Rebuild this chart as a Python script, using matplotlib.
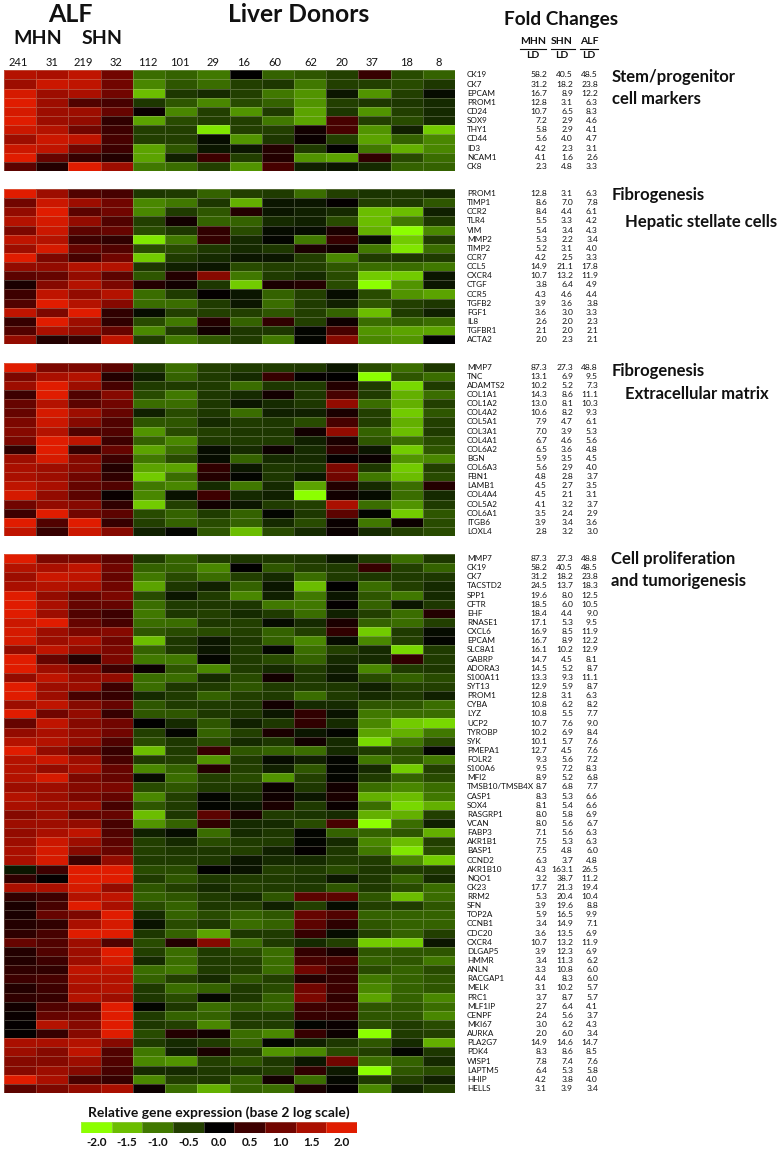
import matplotlib

matplotlib.use("Agg")

import matplotlib.pyplot as plt
import numpy as np
from matplotlib.colors import LinearSegmentedColormap, Normalize

WIDTH = 782
HEIGHT = 1151

SAMPLES = ["241", "31", "219", "32", "112", "101", "29", "16", "60", "62", "20", "37", "18", "8"]
LEGEND_VALUES = [-2.0, -1.5, -1.0, -0.5, 0.0, 0.5, 1.0, 1.5, 2.0]
LEGEND_COLORS = ["#8cff00", "#6bbd00", "#407800", "#223f00", "#000000",
                 "#3c0000", "#700500", "#a80f00", "#e01c00"]

STEM_GENES = ["CK19", "CK7", "EPCAM", "PROM1", "CD24", "SOX9", "THY1", "CD44", "ID3", "NCAM1", "CK8"]
STEM_MHN = [58.2, 31.2, 16.7, 12.8, 10.7, 7.2, 5.8, 5.6, 4.2, 4.1, 2.3]
STEM_SHN = [40.5, 18.2, 8.9, 3.1, 6.5, 2.9, 2.9, 4.0, 2.3, 1.6, 4.8]
STEM_ALF = [48.5, 23.8, 12.2, 6.3, 8.3, 4.6, 4.1, 4.7, 3.1, 2.6, 3.3]
STEM_EXPR = [
    [1.6, 1.5, 1.7, 1.0, -0.9, -0.8, -1.0, 0.0, -0.8, -0.7, -0.5, 0.4, -0.6, -0.8],
    [1.4, 1.8, 1.7, 1.0, -1.1, -0.7, -0.9, -0.5, -0.3, -1.0, -0.5, -0.5, -0.6, -0.3],
    [1.9, 1.4, 1.5, 1.0, -1.5, -0.3, -0.2, -0.5, -1.0, -1.2, -0.1, -1.2, -0.5, -0.05],
    [2.0, 1.4, 0.7, 0.6, -0.3, -0.7, -1.1, -0.6, -0.8, -1.2, -0.5, -0.3, -0.3, -0.2],
    [1.9, 1.4, 1.4, 0.9, 0.05, -1.1, -0.5, -1.2, -0.4, -1.3, -0.3, -1.2, -0.5, -0.2],
    [2.0, 1.4, 1.3, 0.3, -1.3, -0.6, -0.5, -0.5, -1.0, -1.3, 0.6, -0.5, -0.6, -0.2],
    [1.8, 1.6, 1.0, 0.5, -0.5, -0.5, -1.8, -0.5, -0.5, 0.1, 0.6, -1.2, -0.15, -1.6],
    [1.4, 1.8, 1.7, 0.6, -0.5, -0.5, -0.05, -1.2, -0.3, 0.05, -0.5, -1.3, -0.8, -1.1],
    [1.8, 1.7, 1.0, 0.5, -1.3, -0.7, -0.1, -0.1, 0.2, -0.4, 0.0, -1.0, -1.4, -1.1],
    [2.0, 0.9, 0.4, 0.2, -1.3, -0.15, 0.5, -0.5, 0.2, -1.2, -1.3, 0.3, -0.6, -0.9],
    [0.8, 0.2, 2.0, 1.4, -1.0, -0.9, -0.5, -1.2, 0.6, -0.15, -0.1, -0.2, -0.8, -0.8],
]

HSC_GENES = ["PROM1", "TIMP1", "CCR2", "TLR4", "VIM", "MMP2", "TIMP2", "CCR7", "CCL5", "CXCR4",
             "CTGF", "CCR5", "TGFB2", "FGF1", "IL8", "TGFBR1", "ACTA2"]
HSC_MHN = [12.8, 8.6, 8.4, 5.5, 5.4, 5.3, 5.2, 4.2, 14.9, 10.7, 3.8, 4.3, 3.9, 3.6, 2.6, 2.1, 2.0]
HSC_SHN = [3.1, 7.0, 4.4, 3.3, 3.4, 2.2, 3.1, 2.5, 21.1, 13.2, 6.4, 4.6, 3.6, 3.0, 2.0, 2.0, 2.3]
HSC_ALF = [6.3, 7.8, 6.1, 4.2, 4.3, 3.4, 4.0, 3.3, 17.8, 11.9, 4.9, 4.4, 3.8, 3.3, 2.3, 2.1, 2.1]
HSC_EXPR = [
    [2.0, 1.4, 0.7, 0.6, -0.3, -0.4, -0.8, -0.5, -0.4, -0.9, -0.5, -0.25, -0.3, -0.2],
    [1.0, 1.8, 1.4, 1.0, -1.1, -1.0, -0.3, -1.4, -0.1, -0.1, 0.03, -0.5, -0.4, -0.7],
    [1.3, 2.0, 0.8, 1.0, -1.1, -0.4, -0.7, 0.2, -0.1, -0.15, -0.2, -1.5, -1.5, -0.15],
    [1.6, 1.9, 1.3, 0.7, -0.5, 0.1, -0.8, -0.8, -0.2, -0.15, -0.6, -1.5, -1.0, -0.3],
    [1.1, 1.8, 0.8, 0.9, -0.6, -0.3, 0.3, -0.6, -0.05, -0.05, 0.15, -1.4, -2.0, -1.1],
    [1.7, 1.6, 0.5, 0.3, -1.8, -1.0, 0.35, -0.2, -0.03, -1.0, 0.4, -0.05, -1.6, -0.4],
    [1.4, 1.9, 0.9, 0.7, -0.6, -0.6, -0.3, -0.2, -0.3, 0.15, 0.1, -1.0, -1.8, -0.9],
    [2.0, 1.1, 0.6, 1.0, -1.6, -0.4, -0.2, -0.1, -0.1, -0.5, -1.1, -0.4, -0.3, -0.4],
    [1.3, 1.3, 1.6, 1.6, -0.3, -0.15, -0.1, -0.6, -0.5, -0.5, -0.7, -0.9, -0.9, -1.0],
    [0.8, 0.9, 1.3, 0.8, -0.7, 0.2, 1.2, -1.0, -0.4, -0.2, -0.6, -1.6, -1.6, -0.1],
    [0.15, 1.2, 1.6, 1.1, 0.2, 0.1, -0.3, -1.6, 0.15, 0.2, -0.6, -2.0, -1.2, -0.1],
    [0.5, 1.7, 1.3, 1.6, -0.9, -0.4, 0.02, -0.1, -0.8, -0.5, -0.05, -0.6, -1.2, -1.3],
    [0.7, 2.0, 1.6, 1.2, -0.9, -0.9, -0.4, -0.1, -0.9, -0.4, -0.15, -0.7, -0.5, -0.3],
    [1.7, 1.1, 2.0, 0.3, -0.05, -0.5, -0.5, -0.5, -0.7, -0.5, -0.8, -1.5, -0.4, -0.15],
    [0.4, 2.0, 1.4, 0.3, -0.6, -1.0, 0.2, -0.8, 0.3, -0.5, 0.08, -0.9, -0.8, -0.9],
    [0.7, 1.5, 1.3, 0.9, -1.1, -0.4, 0.1, -0.3, -0.3, -0.03, 0.6, -1.2, -1.3, -1.3],
    [1.3, 0.2, 0.4, 1.7, -0.4, -1.0, -0.7, -0.4, -1.0, -0.03, 1.2, -1.1, -1.2, 0.0],
]

ECM_GENES = ["MMP7", "TNC", "ADAMTS2", "COL1A1", "COL1A2", "COL4A2", "COL5A1", "COL3A1", "COL4A1",
             "COL6A2", "BGN", "COL6A3", "FBN1", "LAMB1", "COL4A4", "COL5A2", "COL6A1", "ITGB6", "LOXL4"]
ECM_MHN = [87.3, 13.1, 10.2, 14.3, 13.0, 10.6, 7.9, 7.0, 6.7, 6.5, 5.9, 5.6, 4.8, 4.5, 4.5, 4.1, 3.5, 3.9, 2.8]
ECM_SHN = [27.3, 6.9, 5.2, 8.6, 8.1, 8.2, 4.7, 3.9, 4.6, 3.6, 3.5, 2.9, 2.8, 2.7, 2.1, 3.2, 2.4, 3.4, 3.2]
ECM_ALF = [48.8, 9.5, 7.3, 11.1, 10.3, 9.3, 6.1, 5.3, 5.6, 4.8, 4.5, 4.0, 3.7, 3.5, 3.1, 3.7, 2.9, 3.6, 3.0]
ECM_EXPR = [
    [2.0, 1.1, 1.1, 0.8, -0.4, -0.9, -0.5, -0.4, -0.4, -0.3, -0.1, -0.6, -0.9, -0.3],
    [1.1, 1.5, 1.6, 0.2, -0.15, -0.8, -0.4, -0.2, 0.4, 0.03, 0.0, -2.0, -0.7, -0.9],
    [1.4, 2.0, 1.4, 0.6, -0.4, -0.4, -0.4, -0.9, -0.3, -0.4, 0.2, -0.4, -1.7, -0.4],
    [0.5, 2.0, 0.7, 1.2, -0.6, -1.0, -0.3, -0.2, 0.1, -0.3, 0.6, -0.4, -1.4, -0.9],
    [0.9, 1.6, 0.8, 1.0, -0.9, -0.9, -0.3, -0.1, -0.2, -0.3, 1.3, -0.9, -1.4, -0.5],
    [0.9, 1.9, 1.4, 0.9, -0.15, -0.6, -0.3, -0.9, -0.15, -0.15, 0.15, -0.5, -1.6, -0.7],
    [1.1, 1.8, 1.2, 0.7, -0.7, -0.7, -0.2, -0.4, -0.3, -0.6, 0.6, -0.5, -1.4, -0.5],
    [1.2, 1.6, 0.7, 0.7, -1.2, -0.6, -0.5, -0.3, -0.3, 0.1, 1.3, -0.8, -1.5, -0.4],
    [1.1, 2.0, 1.7, 0.5, -0.8, -1.1, -0.4, -0.4, -0.4, -0.15, 0.15, -0.7, -0.9, -0.6],
    [0.3, 2.0, 0.4, 0.9, -1.3, -0.9, -0.05, -0.2, 0.07, -0.2, 0.3, -0.1, -1.6, -0.7],
    [1.4, 1.9, 1.2, 0.5, -1.0, -0.6, -0.05, -0.8, -0.2, -0.2, 0.03, 0.05, -1.2, -1.1],
    [1.5, 1.4, 1.2, 0.2, -1.3, -1.3, 0.3, -0.1, -0.3, -0.25, 1.1, -0.3, -1.6, -0.5],
    [1.5, 1.4, 1.0, 0.3, -1.6, -0.9, 0.2, -0.03, -0.3, -0.1, 1.0, -1.0, -1.5, -0.6],
    [1.7, 1.5, 0.9, 0.7, -1.0, -1.1, -0.2, -1.0, -0.2, -1.3, 0.2, -0.2, -0.9, 0.2],
    [1.9, 1.3, 0.8, 0.05, -1.1, -0.08, 0.5, -0.2, -0.15, -2.0, 0.1, -0.05, -0.9, -0.2],
    [1.0, 1.3, 1.2, 0.3, -1.6, -0.5, 0.1, -0.1, -0.4, -0.5, 1.5, -0.9, -1.2, -0.4],
    [0.5, 2.0, 1.0, 0.8, -0.6, -0.8, -0.4, -0.8, -0.03, -0.3, 0.8, -0.03, -1.6, -0.7],
    [2.0, 0.7, 2.0, 0.4, -0.5, -0.8, -0.6, -0.8, -0.2, -0.6, 0.05, -1.0, 0.07, -0.6],
    [1.7, 0.4, 1.8, 1.2, -0.15, -0.03, -0.7, -1.5, -0.6, -0.2, 0.05, -0.2, -0.5, -0.6],
]

PROLIF_GENES = ["MMP7", "CK19", "CK7", "TACSTD2", "SPP1", "CFTR", "EHF", "RNASE1", "CXCL6", "EPCAM",
                "SLC8A1", "GABRP", "ADORA3", "S100A11", "SYT13", "PROM1", "CYBA", "LYZ", "UCP2", "TYROBP",
                "SYK", "PMEPA1", "FOLR2", "S100A6", "MFI2", "TMSB10/TMSB4X", "CASP1", "SOX4", "RASGRP1", "VCAN",
                "FABP3", "AKR1B1", "BASP1", "CCND2", "AKR1B10", "NQO1", "CK23", "RRM2", "SFN", "TOP2A",
                "CCNB1", "CDC20", "CXCR4", "DLGAP5", "HMMR", "ANLN", "RACGAP1", "MELK", "PRC1", "MLF1IP",
                "CENPF", "MKI67", "AURKA", "PLA2G7", "PDK4", "WISP1", "LAPTM5", "HHIP", "HELLS"]
PROLIF_MHN = [87.3, 58.2, 31.2, 24.5, 19.6, 18.5, 18.4, 17.1, 16.9, 16.7,
              16.1, 14.7, 14.5, 13.3, 12.9, 12.8, 10.8, 10.8, 10.7, 10.2,
              10.1, 12.7, 9.3, 9.5, 8.9, 8.7, 8.3, 8.1, 8.0, 8.0,
              7.1, 7.5, 7.5, 6.3, 4.3, 3.2, 17.7, 5.3, 3.9, 5.9,
              3.4, 3.6, 10.7, 3.9, 3.4, 3.3, 4.4, 3.1, 3.7, 2.7,
              2.4, 3.0, 2.0, 14.9, 8.3, 7.8, 6.4, 4.2, 3.1]
PROLIF_SHN = [27.3, 40.5, 18.2, 13.7, 8.0, 6.0, 4.4, 5.3, 8.5, 8.9,
              10.2, 4.5, 5.2, 9.3, 5.9, 3.1, 6.2, 5.5, 7.6, 6.9,
              5.7, 4.5, 5.6, 7.2, 5.2, 6.8, 5.3, 5.4, 5.8, 5.6,
              5.6, 5.3, 4.8, 3.7, 163.1, 38.7, 21.3, 20.4, 19.6, 16.5,
              14.9, 13.5, 13.2, 12.3, 11.3, 10.8, 8.3, 10.2, 8.7, 6.4,
              5.6, 6.2, 6.0, 14.6, 8.6, 7.4, 5.3, 3.8, 3.9]
PROLIF_ALF = [48.8, 48.5, 23.8, 18.3, 12.5, 10.5, 9.0, 9.5, 11.9, 12.2,
              12.9, 8.1, 8.7, 11.1, 8.7, 6.3, 8.2, 7.7, 9.0, 8.4,
              7.6, 7.6, 7.2, 8.3, 6.8, 7.7, 6.6, 6.6, 6.9, 6.7,
              6.3, 6.3, 6.0, 4.8, 26.5, 11.2, 19.4, 10.4, 8.8, 9.9,
              7.1, 6.9, 11.9, 6.9, 6.2, 6.0, 6.0, 5.7, 5.7, 4.1,
              3.7, 4.3, 3.4, 14.7, 8.5, 7.6, 5.8, 4.0, 3.4]
PROLIF_EXPR = [
    [2.0, 1.1, 1.1, 0.8, -0.4, -0.8, -0.4, -0.3, -0.3, -0.3, -0.1, -0.4, -0.9, -0.3],
    [1.6, 1.5, 1.7, 1.0, -0.8, -0.8, -1.1, 0.0, -0.7, -0.5, -0.4, 0.4, -0.5, -0.8],
    [1.4, 1.8, 1.7, 0.9, -1.0, -0.6, -0.9, -0.5, -0.2, -0.9, -0.4, -0.3, -0.4, -0.3],
    [1.5, 1.6, 1.5, 1.0, -1.3, -0.3, -0.15, -0.8, -0.1, -1.5, 0.0, -0.9, -0.5, -0.2],
    [2.0, 1.3, 0.9, 1.1, -0.6, -0.1, -0.4, -1.1, -0.15, -1.0, -0.1, -0.7, -1.0, -0.2],
    [2.0, 1.5, 0.9, 0.9, -0.9, -0.4, -0.3, -0.3, -1.0, -1.0, 0.02, -0.8, -0.1, -0.3],
    [2.0, 1.4, 0.7, 0.5, -1.0, -0.3, -0.5, -0.2, -0.4, -0.9, -0.15, -0.5, -0.9, 0.2],
    [1.8, 2.0, 0.9, 0.6, -0.9, -0.9, -0.3, -0.5, -0.05, -0.2, 0.15, -0.8, -0.9, -0.5],
    [1.9, 1.4, 1.1, 1.2, -0.7, -0.6, -0.6, -0.5, -0.8, -0.5, 0.3, -1.6, -0.4, -0.05],
    [1.9, 1.4, 1.5, 1.0, -1.5, -0.3, -0.1, -0.3, -0.8, -1.1, -0.05, -1.1, -0.5, -0.02],
    [1.3, 1.7, 1.3, 1.1, -0.8, -0.3, -0.1, -0.4, -0.03, -0.9, -0.5, -0.2, -1.7, -0.4],
    [2.0, 0.9, 0.2, 1.1, -1.0, -1.0, -0.03, -0.4, -0.6, -0.8, -0.2, -0.2, 0.3, -0.4],
    [2.0, 1.4, 1.1, 0.5, 0.05, -0.7, -1.1, -0.4, -0.2, -0.4, -0.15, -1.1, -0.4, -0.3],
    [1.3, 1.7, 1.3, 1.3, -0.9, -0.9, -0.2, -0.6, 0.1, -0.3, -0.1, -0.6, -0.8, -0.6],
    [2.0, 1.4, 1.4, 0.5, -0.9, -0.3, -0.4, -0.7, -0.4, -0.4, -0.3, -0.15, -0.5, -0.5],
    [2.0, 1.4, 0.6, 0.4, -0.2, -0.4, -0.8, -0.5, -0.4, -0.9, -0.4, -0.2, -0.3, -0.15],
    [1.4, 1.7, 1.2, 0.9, -0.7, -0.4, -0.4, -0.3, 0.1, -0.2, -0.2, -0.7, -0.7, -0.9],
    [2.0, 1.0, 1.3, 0.4, -0.7, -0.7, -0.3, -0.3, -0.1, 0.3, -0.08, -1.0, -0.9, -0.9],
    [0.9, 1.7, 1.2, 1.0, 0.0, -0.2, -0.7, -0.15, -0.3, 0.3, -0.2, -1.1, -1.6, -1.7],
    [1.3, 1.5, 1.3, 1.0, -0.5, -0.03, -0.8, -0.5, 0.15, -0.1, -0.03, -1.3, -1.4, -1.0],
    [1.6, 1.6, 1.3, 0.7, -0.6, -0.3, -0.6, -0.2, -0.3, 0.1, -0.2, -1.7, -1.0, -0.6],
    [2.0, 1.3, 0.9, 0.4, -1.5, -0.4, 0.4, -0.7, -0.8, -0.9, -0.2, -0.4, -0.6, -0.03],
    [1.6, 1.8, 1.4, 0.6, -0.4, -0.5, -1.2, -0.4, -0.05, -0.15, -0.03, -1.0, -0.7, -1.0],
    [1.6, 1.3, 1.5, 0.9, -1.1, -0.8, 0.2, -0.5, -0.15, -0.7, -0.02, -0.2, -1.6, -0.5],
    [1.6, 1.9, 1.1, 0.9, -0.05, -0.9, -0.5, -0.6, -1.2, -0.5, -0.02, -0.4, -0.8, -0.6],
    [1.4, 1.4, 1.2, 1.1, -0.6, -0.7, -0.4, -0.3, 0.05, -0.3, 0.1, -0.9, -1.1, -0.9],
    [1.6, 1.4, 1.1, 0.9, -1.1, -0.5, -0.03, -0.2, 0.08, -0.1, 0.15, -1.4, -1.5, -1.0],
    [1.5, 1.4, 1.4, 0.6, -0.7, -0.4, -0.03, -0.1, 0.15, -0.35, 0.05, -0.9, -1.7, -1.4],
    [1.2, 1.4, 0.9, 0.9, -1.5, -0.3, 0.8, 0.15, -0.4, -0.25, -0.2, -1.4, -1.4, -0.5],
    [1.4, 1.4, 1.3, 0.6, -1.2, -0.8, 0.3, -0.2, -0.2, -0.6, 0.6, -2.0, -0.9, -0.15],
    [1.3, 1.5, 1.7, 0.7, -0.15, -0.05, -0.9, -0.2, -0.3, -0.02, -0.8, -0.8, -0.7, -1.4],
    [1.4, 1.8, 1.4, 0.8, -0.5, -0.2, -0.6, -0.4, -0.4, -0.03, -0.2, -1.1, -1.5, -0.5],
    [1.5, 1.9, 1.2, 0.9, -0.5, -0.3, -0.3, -0.5, -0.15, 0.02, -0.3, -1.0, -1.8, -0.6],
    [1.5, 1.9, 0.5, 1.3, -0.4, -0.4, -0.3, -0.1, -0.2, -0.2, -0.4, -0.4, -1.1, -1.6],
    [-0.1, 0.5, 2.0, 2.0, -0.6, -0.6, 0.0, -0.08, -0.5, -0.4, -0.6, -0.3, -0.4, -0.3],
    [0.3, 0.03, 2.0, 2.0, -0.4, -0.7, -0.3, -0.4, -0.4, -0.25, -0.1, -0.3, -0.8, -0.2],
    [1.5, 1.5, 1.9, 1.3, -0.7, -0.5, -0.2, -0.5, -0.4, -0.35, -0.7, -0.35, -0.6, -0.9],
    [0.3, 0.5, 1.6, 1.7, -0.8, -0.7, -0.4, -0.2, -0.7, 0.8, 0.8, -0.7, -1.5, -0.9],
    [0.15, 0.6, 2.0, 1.5, -0.6, -0.8, -0.3, -0.5, -0.15, -0.5, -0.05, -0.5, -0.4, -0.7],
    [0.15, 0.9, 1.1, 2.0, -0.2, -0.8, -0.6, -0.8, -0.7, 0.9, 0.7, -0.8, -0.8, -0.8],
    [0.2, 0.3, 1.5, 1.9, -0.08, -0.6, -0.3, -0.9, -0.8, 0.8, 0.25, -0.7, -0.8, -0.8],
    [0.25, 0.6, 2.0, 2.0, -0.3, -0.8, -1.3, -0.3, -0.4, 0.4, -0.05, -0.5, -0.8, -0.5],
    [0.9, 0.7, 1.4, 0.7, -0.6, 0.2, 1.2, -0.9, -0.4, -0.2, -0.5, -1.6, -1.6, -0.1],
    [0.2, 0.7, 1.4, 2.0, -0.5, -0.9, -0.4, -0.6, -0.9, 0.35, 0.15, -0.7, -0.7, -0.7],
    [0.2, 0.5, 1.4, 1.9, -0.2, -0.9, -0.4, -0.5, -0.9, 0.6, 0.6, -0.8, -0.7, -1.0],
    [0.3, 0.3, 1.7, 1.7, -0.9, -1.0, -0.4, -0.5, -0.9, 1.0, 0.4, -0.6, -0.8, -0.6],
    [0.5, 0.6, 1.6, 1.6, -0.8, -0.5, -0.2, -0.7, -0.5, 0.2, 0.4, -1.0, -0.8, -0.7],
    [0.2, 0.5, 1.5, 1.6, -0.35, -0.9, -0.8, -0.35, -0.6, 1.0, 0.5, -1.1, -0.8, -0.7],
    [0.3, 0.4, 1.6, 1.4, -0.3, -0.6, -0.04, -0.3, -0.8, 1.1, 0.3, -1.3, -0.8, -1.1],
    [0.1, 0.7, 0.8, 2.0, -0.02, -0.3, -0.9, -0.7, -0.8, 0.5, 0.5, -0.7, -0.7, -0.9],
    [0.05, 0.9, 1.0, 2.0, -0.4, -0.8, -0.8, -0.4, -0.4, 0.4, 0.3, -0.7, -0.7, -1.1],
    [0.03, 1.6, 1.2, 2.0, -0.3, -0.5, -1.1, -0.4, -0.4, -0.03, 0.05, -0.6, -0.4, -0.6],
    [0.03, 0.4, 1.2, 2.0, -0.6, 0.2, 0.1, -0.9, -1.1, 0.4, 0.07, -2.0, -0.4, -0.5],
    [1.5, 1.5, 1.6, 1.2, -0.4, -0.2, -0.4, -0.8, -0.03, -0.15, -0.3, -0.7, -0.2, -1.4],
    [1.4, 1.2, 1.7, 0.7, -1.0, -0.15, 0.15, -0.4, -1.2, -1.1, -0.6, -0.5, -0.03, -0.3],
    [1.2, 1.2, 1.4, 0.7, -1.1, -1.2, -0.5, -0.7, -0.3, -0.1, 1.0, -0.9, -0.8, -0.2],
    [1.2, 1.4, 1.2, 0.6, -0.2, -0.2, -0.35, -0.25, -0.45, 0.3, -0.12, -2.0, -0.7, -0.6],
    [2.0, 1.5, 0.6, 0.4, -1.1, -0.5, -0.3, -0.8, 0.1, -0.9, -0.04, -0.4, -0.5, -0.15],
    [0.8, 1.1, 1.3, 1.5, 0.07, -0.9, -1.4, -0.8, -0.9, 0.15, 0.02, -1.1, -0.15, -0.5],
]

# layout, in pixels of the reference
HEAT_LEFT = 4
HEAT_RIGHT = 455
BLOCK_SPANS = [(70.3, 171), (189, 344.3), (362.7, 536), (554, 1093)]
SAMPLE_X = [18, 52, 83, 116, 148, 180, 213, 244, 275, 311, 342, 372, 406, 439]
GENE_X = 467
FOLD_RIGHT = [547, 573, 598]

plt.rcParams["font.family"] = ["Lato", "DejaVu Sans"]

# colours between the legend stops are lifted a bit, the cells read less black than a straight ramp
cmap = LinearSegmentedColormap.from_list(
    "expr",
    [
        (0.0, LEGEND_COLORS[0]),
        (0.125, LEGEND_COLORS[1]),
        (0.25, LEGEND_COLORS[2]),
        (0.375, LEGEND_COLORS[3]),
        (0.4375, "#1b3500"),
        (0.5, LEGEND_COLORS[4]),
        (0.5625, "#2c0000"),
        (0.625, LEGEND_COLORS[5]),
        (0.75, LEGEND_COLORS[6]),
        (0.875, LEGEND_COLORS[7]),
        (1.0, LEGEND_COLORS[8]),
    ],
)
norm = Normalize(-2.0, 2.0)
GRID_COLOR = (0.85, 0.85, 0.75, 0.28)


def px_text(fig, x, y, text, **kwargs):
    kwargs.setdefault("va", "center")
    fig.text(x / WIDTH, 1 - y / HEIGHT, text, color="#111111", **kwargs)


def draw_block(fig, span, genes, mhn, shn, alf, expr):
    top, bottom = span
    ax = fig.add_axes([
        HEAT_LEFT / WIDTH,
        1 - bottom / HEIGHT,
        (HEAT_RIGHT - HEAT_LEFT) / WIDTH,
        (bottom - top) / HEIGHT,
    ])
    ax.pcolormesh(
        np.array(expr),
        cmap=cmap,
        norm=norm,
        edgecolors=GRID_COLOR,
        linewidth=0.5,
    )
    ax.set_ylim(len(genes), 0)
    ax.axis("off")

    row_h = (bottom - top) / len(genes)
    for i, gene in enumerate(genes):
        y = top + (i + 0.5) * row_h
        px_text(fig, GENE_X, y, gene, fontsize=5.9)
        for x, values in zip(FOLD_RIGHT, (mhn, shn, alf)):
            px_text(fig, x, y, f"{values[i]:.1f}", fontsize=6.1, ha="right")


def draw_legend(fig):
    ax = fig.add_axes([81 / WIDTH, 1 - 1133 / HEIGHT, 276 / WIDTH, 11 / HEIGHT])
    ax.pcolormesh(
        np.array([LEGEND_VALUES]),
        cmap=cmap,
        norm=norm,
        edgecolors=GRID_COLOR,
        linewidth=0.5,
    )
    ax.set_xticks(np.arange(len(LEGEND_VALUES)) + 0.5)
    ax.set_xticklabels([f"{v:.1f}" for v in LEGEND_VALUES], fontsize=8.5, fontweight="bold", color="#111111")
    ax.set_yticks([])
    ax.tick_params(axis="x", length=0, pad=3)
    for spine in ax.spines.values():
        spine.set_visible(False)
    px_text(fig, 219, 1113, "Relative gene expression (base 2 log scale)",
            fontsize=10, fontweight="bold", ha="center")


def draw_headers(fig):
    px_text(fig, 70, 14, "ALF", fontsize=18, fontweight="bold", ha="center")
    px_text(fig, 299, 14, "Liver Donors", fontsize=17.7, fontweight="bold", ha="center")
    px_text(fig, 38, 39, "MHN", fontsize=14, fontweight="bold", ha="center")
    px_text(fig, 102, 39, "SHN", fontsize=14, fontweight="bold", ha="center")
    for x, sample in zip(SAMPLE_X, SAMPLES):
        px_text(fig, x, 62, sample, fontsize=8, ha="center")

    px_text(fig, 561, 19, "Fold Changes", fontsize=13.7, fontweight="bold", ha="center")
    for name, x, x0, x1 in (("MHN", 533, 520, 546), ("SHN", 562, 551, 575), ("ALF", 589, 580, 598)):
        px_text(fig, x, 42, name, fontsize=7.5, fontweight="bold", ha="center")
        px_text(fig, x, 55, "LD", fontsize=7.5, fontweight="bold", ha="center")
        fig.add_artist(plt.Line2D(
            [x0 / WIDTH, x1 / WIDTH],
            [1 - 48.5 / HEIGHT, 1 - 48.5 / HEIGHT],
            color="#111111",
            linewidth=0.8,
        ))

    for x, y, label in (
        (612, 77, "Stem/progenitor"),
        (612, 99, "cell markers"),
        (612, 195, "Fibrogenesis"),
        (625, 222, "Hepatic stellate cells"),
        (612, 371, "Fibrogenesis"),
        (625, 394, "Extracellular matrix"),
        (611, 559, "Cell proliferation"),
        (611, 581, "and tumorigenesis"),
    ):
        px_text(fig, x, y, label, fontsize=12, fontweight="bold")


def main() -> None:
    fig = plt.figure(figsize=(WIDTH / 100, HEIGHT / 100), dpi=100, facecolor="white")

    draw_block(fig, BLOCK_SPANS[0], STEM_GENES, STEM_MHN, STEM_SHN, STEM_ALF, STEM_EXPR)
    draw_block(fig, BLOCK_SPANS[1], HSC_GENES, HSC_MHN, HSC_SHN, HSC_ALF, HSC_EXPR)
    draw_block(fig, BLOCK_SPANS[2], ECM_GENES, ECM_MHN, ECM_SHN, ECM_ALF, ECM_EXPR)
    draw_block(fig, BLOCK_SPANS[3], PROLIF_GENES, PROLIF_MHN, PROLIF_SHN, PROLIF_ALF, PROLIF_EXPR)
    draw_headers(fig)
    draw_legend(fig)

    fig.savefig("out.png", dpi=100)
    plt.close(fig)


if __name__ == "__main__":
    main()
